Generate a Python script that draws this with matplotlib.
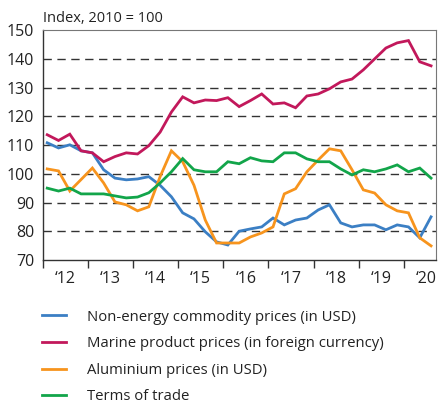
import matplotlib
matplotlib.use("Agg")
import matplotlib.pyplot as plt
import numpy as np

plt.rcParams['font.family'] = ['Open Sans', 'DejaVu Sans']

# quarterly data, Q1 2012 - Q3 2020
years = ['\u201812', '\u201813', '\u201814', '\u201815', '\u201816', '\u201817', '\u201818', '\u201819', '\u201820']

non_energy = [110.8, 109, 110.1, 108, 107.3, 101.4, 98.5, 97.9, 98.2, 99, 96, 92,
              86.4, 84.3, 79.8, 76.3, 75.2, 80, 80.8, 81.5, 84.6, 82.2, 83.9, 84.6,
              87.4, 89.2, 82.9, 81.5, 82.2, 82.2, 80.5, 82.2, 81.5, 77.7, 85]
marine = [113.6, 111.6, 113.8, 108, 107.3, 104.2, 106, 107.3, 106.9, 109.8, 114.5, 121.5,
          126.8, 124.7, 125.7, 125.5, 126.5, 123.4, 125.5, 127.8, 124.3, 124.7, 123, 127.1,
          127.8, 129.6, 132, 133, 136.2, 140, 143.8, 145.6, 146.4, 139, 137.6]
aluminium = [101.7, 101, 94, 98, 102, 96.8, 90.2, 89.2, 87.1, 88.5, 99, 108,
             104.2, 96, 83.9, 75.9, 75.9, 75.9, 78, 79.4, 81.5, 93, 94.8, 100.7,
             104.8, 108.7, 108, 101.4, 94.4, 93.3, 89.2, 87.1, 86.4, 77.7, 74.9]
terms_of_trade = [95, 94, 95, 93, 93, 93, 92.3, 91.6, 91.9, 93.4, 96.8, 100.7,
                  105.3, 101.4, 100.7, 100.7, 104.2, 103.5, 105.6, 104.5, 104.2, 107.3, 107.3, 105.2,
                  104.2, 104.2, 101.7, 99.6, 101.4, 100.7, 101.7, 103.1, 100.7, 102, 98.5]

labels = ['Non-energy commodity prices (in USD)',
          'Marine product prices (in foreign currency)',
          'Aluminium prices (in USD)',
          'Terms of trade']
colors = ['#3b7fc4', '#c2185b', '#f7941d', '#12a54a']

x = 2012.1 + 0.25 * np.arange(len(marine))

fig = plt.figure(figsize=(4.38, 4.03), dpi=100)
ax = fig.add_axes([0.0975, 0.355, 0.899, 0.57])

for y, c, l in zip([non_energy, marine, aluminium, terms_of_trade], colors, labels):
    ax.plot(x, y, color=c, lw=2.0, label=l, solid_joinstyle='miter')

ax.set_ylim(70, 150)
ax.set_xlim(2012, 2020.72)
ax.set_yticks(range(70, 151, 10))
for v in range(80, 150, 10):
    ax.axhline(v, color='#333333', lw=1.0, dashes=(6, 4), zorder=0)

ax.set_xticks(range(2012, 2021))
ax.set_xticklabels([])
ax.set_xticks(np.arange(2012.5, 2021, 1), minor=True)
ax.set_xticklabels(years, minor=True)
ax.tick_params(axis='x', which='major', length=6, direction='out', width=1, color='#333333')
ax.tick_params(axis='x', which='minor', length=0, pad=8, labelsize=11.5, labelcolor='#222222')
ax.tick_params(axis='y', length=0, pad=6, labelsize=11.5, labelcolor='#222222')

for s in ['left', 'bottom']:
    ax.spines[s].set_color('#333333')
    ax.spines[s].set_linewidth(1.0)
for s in ['top', 'right']:
    ax.spines[s].set_color('#777777')
    ax.spines[s].set_linewidth(0.8)

fig.text(0.0975, 0.935, 'Index, 2010 = 100', fontsize=10.5, color='#222222', va='bottom')

fig.legend(loc='upper left', bbox_to_anchor=(0.079, 0.25), frameon=False,
           fontsize=10.7, handlelength=1.6, handletextpad=1.45, labelspacing=0.78,
           borderpad=0.0, labelcolor='#222222')

fig.savefig('out.png', dpi=100)
